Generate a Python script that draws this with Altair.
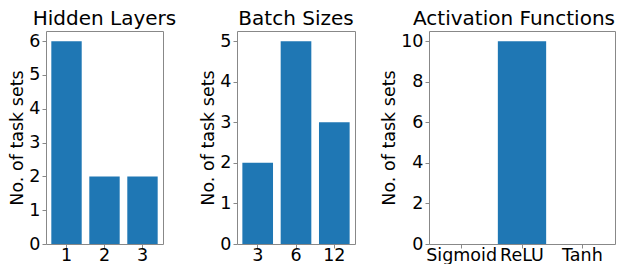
import altair as alt
import pandas as pd

hidden_layers = ["1", "2", "3"]
hidden_counts = [6, 2, 2]

batch_sizes = ["3", "6", "12"]
batch_counts = [2, 5, 3]

activations = ["Sigmoid", "ReLU", "Tanh"]
activation_counts = [0, 10, 0]

FONT = "DejaVu Sans"
BLUE = "#1f77b4"
PLOT_H = 213


def panel(cats, vals, title, ymax, yticks, width, anchor="middle"):
    df = pd.DataFrame({"cat": cats, "n": vals})
    return (
        alt.Chart(df)
        .mark_bar(color=BLUE)
        .encode(
            x=alt.X(
                "cat:N",
                sort=cats,
                title=None,
                scale=alt.Scale(paddingInner=0.2, paddingOuter=0.14),
                axis=alt.Axis(labelAngle=0, domain=False, labelPadding=-2),
            ),
            y=alt.Y(
                "n:Q",
                title="No. of task sets",
                scale=alt.Scale(domain=[0, ymax], nice=False, zero=True),
                axis=alt.Axis(values=yticks, grid=False, domain=False, labelPadding=2),
            ),
        )
        .properties(
            width=width,
            height=PLOT_H,
            title=alt.TitleParams(text=title, anchor=anchor),
        )
    )


p1 = panel(hidden_layers, hidden_counts, "Hidden Layers", 6.3, [0, 1, 2, 3, 4, 5, 6], 117)
p2 = panel(batch_sizes, batch_counts, "Batch Sizes", 5.25, [0, 1, 2, 3, 4, 5], 118)
p3 = panel(activations, activation_counts, "Activation Functions", 10.5, [0, 2, 4, 6, 8, 10], 186,
           anchor="end")

chart = (
    alt.hconcat(p1, p2, p3, spacing=74, bounds="flush")
    .properties(padding={"left": 0, "top": 0, "right": 0, "bottom": 0})
    .configure_view(stroke="#888888", strokeWidth=1)
    .configure_axis(
        labelFont=FONT,
        titleFont=FONT,
        labelFontSize=17.5,
        titleFontSize=17.5,
        titleFontWeight="normal",
        labelColor="#000000",
        titleColor="#000000",
        tickColor="#888888",
        tickSize=4,
        titlePadding=2,
    )
    .configure_title(
        font=FONT,
        fontSize=20,
        fontWeight="normal",
        color="#000000",
        offset=2,
    )
)

chart.save("out.html", embed_options={"renderer": "svg", "actions": False})
